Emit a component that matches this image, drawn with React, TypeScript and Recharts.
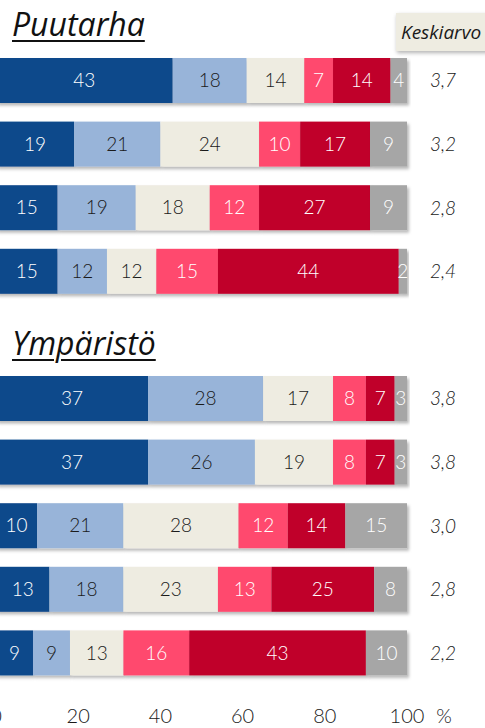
import { BarChart, Bar, XAxis, YAxis, LabelList } from "recharts";

// rows: 4 x Puutarha, one empty spacer row, 5 x Ympäristö
const rows = ["p1", "p2", "p3", "p4", "gap", "y1", "y2", "y3", "y4", "y5"];

const s1 = [43, 19, 15, 15, null, 37, 37, 10, 13, 9];
const s2 = [18, 21, 19, 12, null, 28, 26, 21, 18, 9];
const s3 = [14, 24, 18, 12, null, 17, 19, 28, 23, 13];
const s4 = [7, 10, 12, 15, null, 8, 8, 12, 13, 16];
const s5 = [14, 17, 27, 44, null, 7, 7, 14, 25, 43];
const s6 = [4, 9, 9, 2, null, 3, 3, 15, 8, 10];

const averages = ["3,7", "3,2", "2,8", "2,4", "", "3,8", "3,8", "3,0", "2,8", "2,2"];

const xTicks = [0, 20, 40, 60, 80, 100];

const series = [
  { key: "s1", values: s1, color: "#0D488B", text: "#ffffff" },
  { key: "s2", values: s2, color: "#98B4D9", text: "#1a1a1a" },
  { key: "s3", values: s3, color: "#EEECE1", text: "#1a1a1a" },
  { key: "s4", values: s4, color: "#FF4A6E", text: "#ffffff" },
  { key: "s5", values: s5, color: "#C0002B", text: "#ffffff" },
  { key: "s6", values: s6, color: "#A6A6A6", text: "#ffffff" },
];

const data = rows.map((name, i) => {
  const row: any = { name, avg: averages[i] };
  series.forEach((s) => {
    row[s.key] = s.values[i];
  });
  return row;
});

const font = "Lato, 'Open Sans', sans-serif";
const titleFont = "'Open Sans', Lato, sans-serif";

const ShadowRect = (props: any) => {
  const { x, y, width, height, fill } = props;
  if (!width || width <= 0) return null;
  return (
    <rect
      x={x}
      y={y}
      width={width}
      height={height}
      fill={fill}
      filter="url(#barShadow)"
    />
  );
};

const XTick = ({ x, y, payload }: any) => (
  <g>
    <text
      x={x}
      y={y + 38}
      textAnchor="middle"
      fontFamily={font}
      fontWeight={300}
      fontSize={20}
      fill="#1a1a1a"
    >
      {payload.value}
    </text>
    {payload.value === 100 && (
      <text
        x={x + 37}
        y={y + 38}
        textAnchor="middle"
        fontFamily={font}
        fontWeight={300}
        fontSize={20}
        fill="#1a1a1a"
      >
        %
      </text>
    )}
  </g>
);

const AvgTick = ({ x, y, payload }: any) => {
  const row = data.find((d) => d.name === payload.value);
  return (
    <text
      x={x + 36}
      y={y}
      dy="0.35em"
      textAnchor="middle"
      fontFamily={font}
      fontStyle="italic"
      fontWeight={300}
      fontSize={19}
      fill="#1a1a1a"
    >
      {row ? row.avg : ""}
    </text>
  );
};

const titleStyle: any = {
  position: "absolute",
  left: 12,
  fontFamily: titleFont,
  fontStyle: "italic",
  fontSize: 32,
  lineHeight: "32px",
  color: "#111",
  textDecoration: "underline",
  textDecorationThickness: 2,
  textUnderlineOffset: 4,
  whiteSpace: "nowrap",
};

export default function App() {
  return (
    <div style={{ position: "absolute", left: 0, top: 0, width: 485, height: 728, overflow: "hidden", background: "#fff" }}>
      <div style={{ position: "absolute", left: -4, top: 0 }}>
        <BarChart
          width={489}
          height={728}
          data={data}
          layout="vertical"
          margin={{ top: 49, right: 0, bottom: 0, left: 0 }}
          barSize={45}
        >
          <defs>
            <filter id="barShadow" x="-10%" y="-20%" width="130%" height="160%">
              <feDropShadow dx="2" dy="2.5" stdDeviation="1.8" floodColor="#000" floodOpacity="0.28" />
            </filter>
          </defs>
          <XAxis
            type="number"
            domain={[0, 100]}
            ticks={xTicks}
            axisLine={false}
            tickLine={false}
            tickSize={0}
            tickMargin={0}
            height={43}
            tick={<XTick />}
            interval={0}
          />
          <YAxis
            type="category"
            dataKey="name"
            orientation="right"
            width={78}
            axisLine={false}
            tickLine={false}
            tickSize={0}
            tickMargin={0}
            tick={<AvgTick />}
            interval={0}
          />
          {series.map((s) => (
            <Bar
              key={s.key}
              dataKey={s.key}
              stackId="a"
              fill={s.color}
              shape={<ShadowRect />}
              isAnimationActive={false}
            >
              <LabelList
                dataKey={s.key}
                position="center"
                fill={s.text}
                fontFamily={font}
                fontWeight={300}
                fontSize={19}
                formatter={(v: any) => (v == null ? "" : v)}
              />
            </Bar>
          ))}
        </BarChart>
      </div>
      <div style={{ ...titleStyle, top: 8 }}>Puutarha</div>
      <div style={{ ...titleStyle, top: 327 }}>Ympäristö</div>
      <div
        style={{
          position: "absolute",
          left: 396,
          top: 13,
          width: 100,
          height: 38,
          background: "#EEECE1",
          boxShadow: "1px 2px 4px rgba(0,0,0,0.3)",
          fontFamily: titleFont,
          fontStyle: "italic",
          fontSize: 19,
          lineHeight: "38px",
          paddingLeft: 5,
          boxSizing: "border-box",
          color: "#1a1a1a",
        }}
      >
        Keskiarvo
      </div>
    </div>
  );
}
